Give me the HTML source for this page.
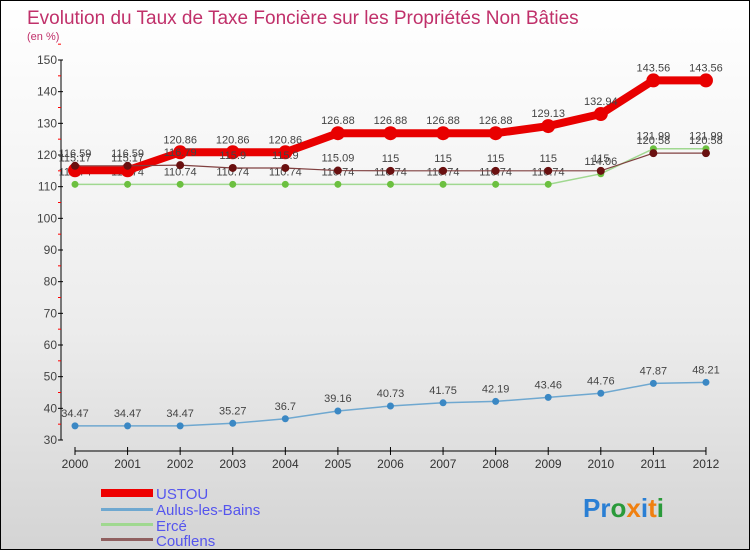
<!DOCTYPE html>
<html><head><meta charset="utf-8"><style>
body{margin:0}
#wrap{position:relative;width:748px;height:548px;border:1px solid #000;background:linear-gradient(#fff 0%,#ececec 60%,#d4d4d4 100%);font-family:"Liberation Sans",sans-serif;overflow:hidden}
</style></head><body>
<div id="wrap">
<svg id="chart" width="748" height="548">
<text x="26" y="23" font-size="19" fill="#c0306a">Evolution du Taux de Taxe Foncière sur les Propriétés Non Bâties</text>
<text x="26" y="39" font-size="11" fill="#c0306a">(en %)</text>
<g id="axes"></g><g id="series"></g>
<g>
<rect x="100" y="488" width="52" height="8" fill="#e00"/>
<text x="155" y="498" font-size="15" fill="#5555ee">USTOU</text>
<rect x="100" y="507" width="52" height="3" fill="#6fa8d0"/>
<text x="155" y="514" font-size="15" fill="#5555ee">Aulus-les-Bains</text>
<rect x="100" y="522" width="52" height="3" fill="#a0d890"/>
<text x="155" y="530" font-size="15" fill="#5555ee">Ercé</text>
<rect x="100" y="537" width="52" height="3" fill="#906060"/>
<text x="155" y="545" font-size="15" fill="#5555ee">Couflens</text>
</g>
<text x="582" y="516" font-size="26" font-weight="bold"><tspan fill="#2a7fd4">Pr</tspan><tspan fill="#2a9a3a">o</tspan><tspan fill="#f08010">x</tspan><tspan fill="#2a7fd4">i</tspan><tspan fill="#f08010">t</tspan><tspan fill="#2a9a3a">i</tspan></text>
</svg>
</div>
<script>
const years=[2000,2001,2002,2003,2004,2005,2006,2007,2008,2009,2010,2011,2012];
const yTicks=[30,40,50,60,70,80,90,100,110,120,130,140,150];
const ustou=[115.17,115.17,120.86,120.86,120.86,126.88,126.88,126.88,126.88,129.13,132.94,143.56,143.56];
const aulus=[34.47,34.47,34.47,35.27,36.7,39.16,40.73,41.75,42.19,43.46,44.76,47.87,48.21];
const erce=[110.74,110.74,110.74,110.74,110.74,110.74,110.74,110.74,110.74,110.74,114.06,121.99,121.99];
const couflens=[116.59,116.59,116.79,115.9,115.9,115.09,115,115,115,115,115,120.58,120.58];
const NS="http://www.w3.org/2000/svg";
const X=i=>74+i*52.58, Y=v=>439-(v-30)*3.1667;
function mk(t,a,p){const e=document.createElementNS(NS,t);for(const k in a)e.setAttribute(k,a[k]);p.appendChild(e);return e;}
const ax=document.getElementById('axes');
let l=mk('line',{x1:60,y1:Y(150),x2:60,y2:Y(30),stroke:'#000'},ax);

yTicks.forEach(v=>{mk('line',{x1:57,x2:62,y1:Y(v),y2:Y(v),stroke:'#000'},ax);
 mk('line',{x1:57,x2:60,y1:Y(v+5),y2:Y(v+5),stroke:'#f00'},ax);
 const t=mk('text',{x:56,y:Y(v)+4,'font-size':12,fill:'#444','text-anchor':'end'},ax);t.textContent=v;
 });
l=mk('line',{x1:X(0),y1:450,x2:X(12),y2:450,stroke:'#000'},ax);

years.forEach((y,i)=>{mk('line',{x1:X(i),x2:X(i),y1:446,y2:454,stroke:'#000'},ax);
 const t=mk('text',{x:X(i),y:467,'font-size':12,fill:'#333','text-anchor':'middle'},ax);t.textContent=y;
 });
const sg=document.getElementById('series');
function draw(vals,name,color,w,r,pc){
 const g=mk('g',{},sg);
 const p=mk('polyline',{points:vals.map((v,i)=>X(i)+','+Y(v)).join(' '),fill:'none',stroke:color,'stroke-width':w},g);
 
 vals.forEach((v,i)=>{const c=mk('circle',{cx:X(i),cy:Y(v),r:r,fill:pc},g);
  
  const t=mk('text',{x:X(i),y:Y(v)-9,'font-size':11,fill:'#444','text-anchor':'middle'},g);t.textContent=v;
  });
}
draw(aulus,'aulus','#6fa8d0',1.5,3.5,'#3b88c4');
draw(erce,'erce','#a0d890',1.5,3.5,'#6cc040');
draw(ustou,'ustou','#e80000',8,7,'#e80000');
draw(couflens,'couflens','#804040',1.2,4,'#6a1010');
</script>
</body></html>
